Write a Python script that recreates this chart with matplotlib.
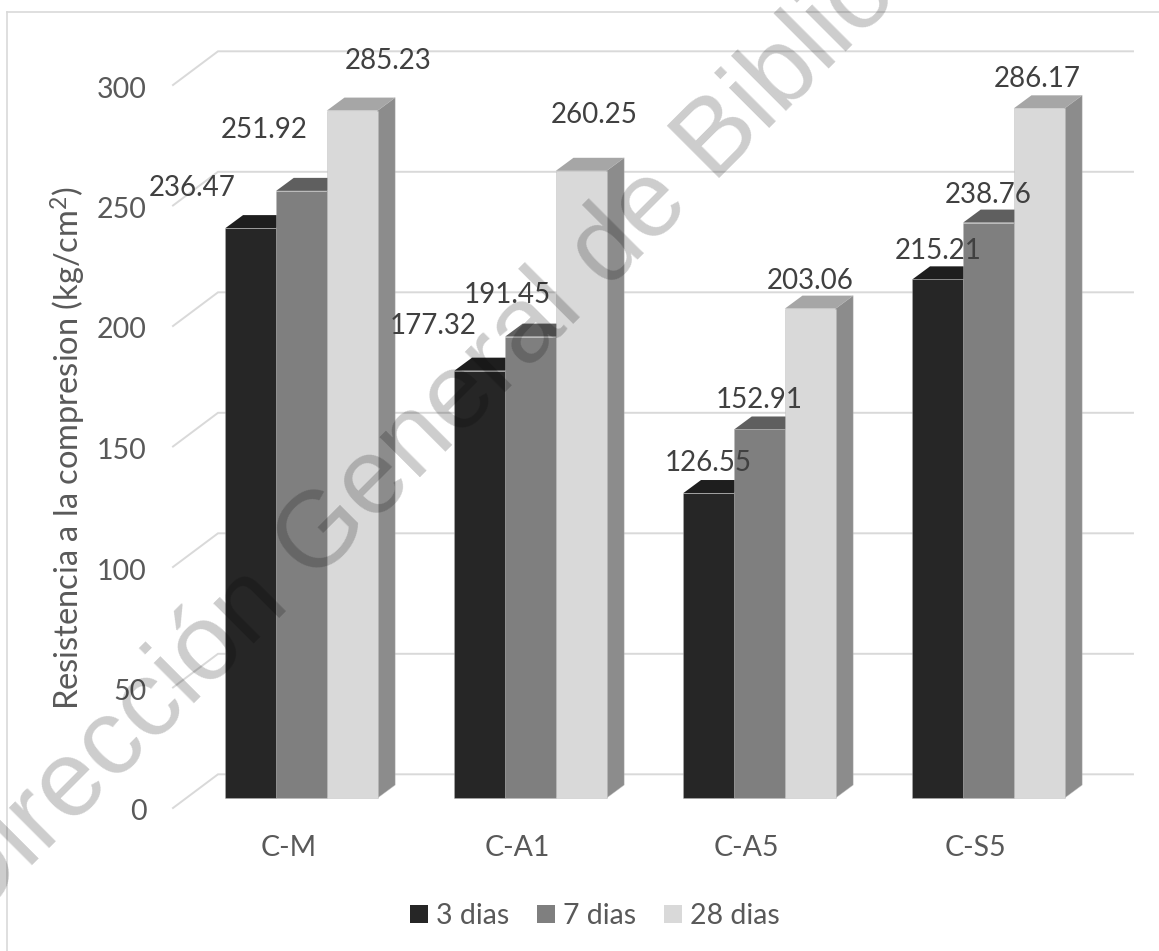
import matplotlib
matplotlib.use('Agg')
import matplotlib.pyplot as plt
from matplotlib.lines import Line2D
from matplotlib.patches import Patch, Polygon
from matplotlib.transforms import ScaledTranslation

plt.rcParams['font.family'] = ['Lato', 'DejaVu Sans']
plt.rcParams['mathtext.fontset'] = 'custom'
plt.rcParams['mathtext.rm'] = 'Lato'
plt.rcParams['mathtext.default'] = 'rm'

categories = ['C-M', 'C-A1', 'C-A5', 'C-S5']
series_names = ['3 dias', '7 dias', '28 dias']
dias_3 = [236.47, 177.32, 126.55, 215.21]
dias_7 = [251.92, 191.45, 152.91, 238.76]
dias_28 = [285.23, 260.25, 203.06, 286.17]
y_ticks = [0, 50, 100, 150, 200, 250, 300]

front_colors = ['#262626', '#7f7f7f', '#d9d9d9']
top_colors = ['#1e1e1e', '#5f5f5f', '#a6a6a6']
side_colors = ['#1a1a1a', '#666666', '#8c8c8c']
grid_color = '#d9d9d9'
edge_color = (0.72, 0.72, 0.72, 0.55)

# pixel offsets of the value labels from the top centre of each bar
label_dx = [[-59, -47, -1, 0], [-37, -23, 0, 0], [36, 13, 0, -2]]
label_dy = [[40, 45, 30, 28], [61, 42, 29, 28], [50, 56, 28, 29]]

W, H = 1159, 951
DPI = 100
# plot area in pixels: bar plane spans these edges
left_px, right_px = 187.0, 1103.0
bottom_px, top_px = 798.0, 75.0
px_x = (right_px - left_px) / 4
px_y = (bottom_px - top_px) / 300

fig = plt.figure(figsize=(W / DPI, H / DPI), dpi=DPI, facecolor='white')
ax = fig.add_axes([left_px / W, 1 - bottom_px / H,
                   (right_px - left_px) / W, (bottom_px - top_px) / H])
ax.set_xlim(0, 4)
ax.set_ylim(0, 300)
ax.patch.set_visible(False)
for spine in ax.spines.values():
    spine.set_visible(False)

# bar depth, in data units
depth_x = 17.6 / px_x
depth_y = 13 / px_y
bar_w = 50.7 / px_x

# back wall gridlines with the short diagonal on the left
wall_x = 31 / px_x
wall_y = 23.7 / px_y
front_x = -14 / px_x
front_y = -10 / px_y
grid_end = (1133 - left_px) / px_x
for v in y_ticks:
    ax.plot([front_x, wall_x, grid_end],
            [v + front_y, v + wall_y, v + wall_y],
            color=grid_color, lw=1.4, zorder=1, clip_on=False,
            solid_joinstyle='miter')

# 3D looking bars, left to right so the neighbour hides the side face
all_series = [dias_3, dias_7, dias_28]
for j, values in enumerate(all_series):
    z = 3 + j
    for i, v in enumerate(values):
        x0 = i + 0.5 + (j - 1.5) * bar_w
        x1 = x0 + bar_w
        ax.add_patch(Polygon([(x1, 0), (x1 + depth_x, depth_y),
                              (x1 + depth_x, v + depth_y), (x1, v)],
                             closed=True, fc=side_colors[j], ec=edge_color, lw=0.5,
                             zorder=z, clip_on=False))
        ax.add_patch(Polygon([(x0, v), (x0 + depth_x, v + depth_y),
                              (x1 + depth_x, v + depth_y), (x1, v)],
                             closed=True, fc=top_colors[j], ec='none',
                             zorder=z, clip_on=False))
    ax.bar([i + 0.5 + (j - 1) * bar_w for i in range(4)], values, width=bar_w,
           color=front_colors[j], edgecolor=edge_color, linewidth=0.5,
           zorder=z, clip_on=False)

# value labels
for j, values in enumerate(all_series):
    for i, v in enumerate(values):
        xc = i + 0.5 + (j - 1) * bar_w
        ax.annotate(f'{v:.2f}', xy=(xc, v),
                    xytext=(label_dx[j][i], label_dy[j][i]),
                    textcoords='offset pixels', ha='center', va='center',
                    fontsize=20, color='#404040', zorder=10,
                    annotation_clip=False)

# axis ticks, shifted onto the front edge of the floor
ax.set_xticks([i + 0.5 for i in range(4)], categories)
ax.set_yticks(y_ticks, [str(v) for v in y_ticks])
ax.tick_params(axis='x', length=0, pad=27, labelsize=20.5, labelcolor='#595959')
ax.tick_params(axis='y', length=0, pad=29, labelsize=20.5, labelcolor='#595959')
for lbl in ax.get_xticklabels():
    lbl.set_transform(lbl.get_transform() + ScaledTranslation(-13 / DPI, 0, fig.dpi_scale_trans))
for lbl in ax.get_yticklabels():
    lbl.set_transform(lbl.get_transform() + ScaledTranslation(0, -12 / DPI, fig.dpi_scale_trans))

fig.text(68 / W, 1 - 448 / H, 'Resistencia a la compresion (kg/cm$^2$)',
         rotation=90, ha='center', va='center', fontsize=23.5, color='#595959')

handles = [Patch(fc=c, ec='none') for c in front_colors]
fig.legend(handles, series_names, loc='center', bbox_to_anchor=(594.5 / W, 1 - 916 / H),
           ncols=3, frameon=False, fontsize=20.5, labelcolor='#595959',
           handlelength=0.63, handleheight=0.63, handletextpad=0.28,
           columnspacing=0.98)

# chart frame, only top and left are inside the crop
fig.add_artist(Line2D([6.5 / W, 6.5 / W], [0, 1 - 12 / H], color=grid_color, lw=1.2))
fig.add_artist(Line2D([6.5 / W, 1], [1 - 12 / H, 1 - 12 / H], color=grid_color, lw=1.2))

# library stamp across the whole page
fig.text(-28 / W, 1 - 925 / H, 'Dirección General de Bibliotecas',
         family='Liberation Sans', fontsize=78, color='black', alpha=0.2,
         rotation=45, rotation_mode='anchor', ha='left', va='baseline', zorder=20)

fig.savefig('out.png', dpi=DPI)
